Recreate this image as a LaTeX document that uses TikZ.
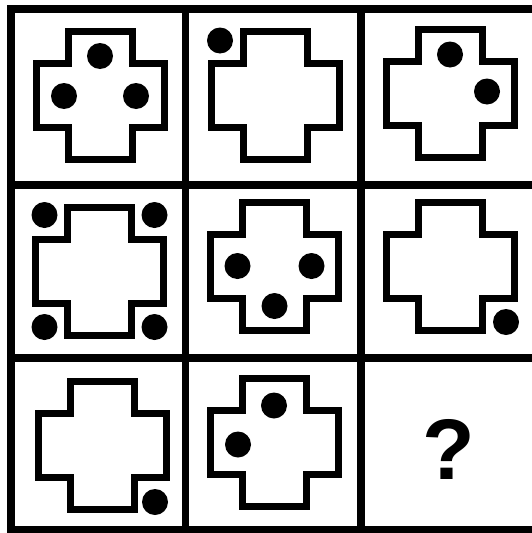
\documentclass[tikz,border=0pt]{standalone}
\usepackage{fontspec}
\newfontfamily\qfont{Liberation Sans}
\usetikzlibrary{positioning}
\tikzset{
  gridline/.style={line width=7.5pt,draw=black},
  crossline/.style={line width=7pt,draw=black,line join=miter},
  spot/.style={fill=black},
  qmark/.style={font=\qfont\bfseries\fontsize{86}{86}\selectfont,inner sep=0pt},
  pics/plus/.style={code={
    \draw[crossline] (-32,-64) -- (32,-64) -- (32,-32) -- (64,-32) -- (64,32)
      -- (32,32) -- (32,64) -- (-32,64) -- (-32,32) -- (-64,32) -- (-64,-32)
      -- (-32,-32) -- cycle;}}
}

\begin{document}
\begin{tikzpicture}[x=1pt,y=-1pt]
  \useasboundingbox (0,0) rectangle (531,533);
  \fill[white] (0,0) rectangle (531,533);
  \draw[gridline] (11,9) rectangle (538,530);
  \draw[gridline] (185.5,9) -- (185.5,530);
  \draw[gridline] (361,9) -- (361,530);
  \draw[gridline] (11,185) -- (538,185);
  \draw[gridline] (11,358) -- (538,358);

  \begin{scope}[shift={(100,95)}]
    \pic {plus};
    \fill[spot] (0,-39) circle (13pt);
    \fill[spot] (-36,1) circle (13pt);
    \fill[spot] (36,1) circle (13pt);
  \end{scope}
  \begin{scope}[shift={(275,95.5)}]
    \pic {plus};
    \fill[spot] (-55,-55) circle (13pt);
  \end{scope}
  \begin{scope}[shift={(450,93.5)}]
    \pic {plus};
    \fill[spot] (0,-39) circle (13pt);
    \fill[spot] (37,-2) circle (13pt);
  \end{scope}

  \begin{scope}[shift={(99.5,271)}]
    \pic {plus};
    \fill[spot] (-55,-56) circle (13pt);
    \fill[spot] (55,-56) circle (13pt);
    \fill[spot] (-55,56) circle (13pt);
    \fill[spot] (55,56) circle (13pt);
  \end{scope}
  \begin{scope}[shift={(274.5,266)}]
    \pic {plus};
    \fill[spot] (-37,0) circle (13pt);
    \fill[spot] (37,0) circle (13pt);
    \fill[spot] (0,40) circle (13pt);
  \end{scope}
  \begin{scope}[shift={(450,266)}]
    \pic {plus};
    \fill[spot] (56,56) circle (13pt);
  \end{scope}

  \begin{scope}[shift={(102,445)}]
    \pic {plus};
    \fill[spot] (53,57) circle (13pt);
  \end{scope}
  \begin{scope}[shift={(274,442.5)}]
    \pic {plus};
    \fill[spot] (0,-37) circle (13pt);
    \fill[spot] (-36,2) circle (13pt);
  \end{scope}
  \node[qmark] (missing) at (448.5,449.5) {?};
\end{tikzpicture}
\end{document}
